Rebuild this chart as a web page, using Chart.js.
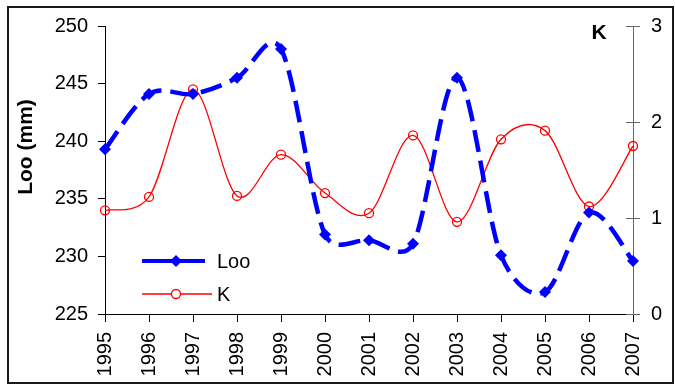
<!DOCTYPE html>
<html>
<head>
<meta charset="utf-8">
<script src="https://cdn.jsdelivr.net/npm/chart.js"></script>
<style>
  html, body { margin: 0; padding: 0; background: #fff; }
  canvas { display: block; }
</style>
</head>
<body>
<canvas id="growth-chart" width="675" height="391"></canvas>
<script>
// Years and growth parameters.
var years = ["1995", "1996", "1997", "1998", "1999", "2000", "2001", "2002", "2003", "2004", "2005", "2006", "2007"];
var looValues = [239.3, 244.1, 244.1, 245.5, 248.0, 231.9, 231.4, 231.1, 245.5, 230.1, 226.9, 233.8, 229.6];
var kValues = [1.08, 1.22, 2.34, 1.23, 1.66, 1.26, 1.05, 1.86, 0.96, 1.82, 1.91, 1.12, 1.75];

var looColor = "#0000ff";
var kColor = "#ff0000";
var fontFamily = "'Liberation Sans', Arial, sans-serif";

Chart.defaults.font.family = fontFamily;
Chart.defaults.color = "#000";

// Catmull-Rom style smoothing (1/6 of the neighbour chord),
// each handle kept within half of its segment.
var smoothing = {
	id: "smoothing",
	beforeDatasetDraw: function (chart, args) {
		var line = args.meta.dataset;
		var pts = args.meta.data;
		var n = pts.length;
		for (var i = 0; i < n; i++) {
			var p0 = pts[i - 1] || pts[i];
			var p1 = pts[i];
			var p2 = pts[i + 1] || pts[i];
			var tx = (p2.x - p0.x) / 6;
			var ty = (p2.y - p0.y) / 6;
			var len = Math.sqrt(tx * tx + ty * ty) || 1;
			var dIn = Math.sqrt(Math.pow(p1.x - p0.x, 2) + Math.pow(p1.y - p0.y, 2));
			var dOut = Math.sqrt(Math.pow(p2.x - p1.x, 2) + Math.pow(p2.y - p1.y, 2));
			var sIn = Math.min(1, dIn / 2 / len);
			var sOut = Math.min(1, dOut / 2 / len);
			p1.cp1x = p1.x - tx * sIn;
			p1.cp1y = p1.y - ty * sIn;
			p1.cp2x = p1.x + tx * sOut;
			p1.cp2y = p1.y + ty * sOut;
		}
		line._pointsUpdated = true;
	}
};

// Frame, axis labels, inner ticks of the K axis and the legend.
var extras = {
	id: "extras",
	afterDraw: function (chart) {
		var ctx = chart.ctx;
		var area = chart.chartArea;
		var kScale = chart.scales.y1;

		ctx.save();

		// Outer frame.
		ctx.strokeStyle = "#1a1a1a";
		ctx.lineWidth = 2;
		ctx.strokeRect(8, 7, 665, 376);

		// Ticks of the right axis reach into the plot too.
		ctx.strokeStyle = "#666";
		ctx.lineWidth = 1;
		kScale.ticks.forEach(function (t) {
			var y = Math.round(kScale.getPixelForValue(t.value)) + 0.5;
			ctx.beginPath();
			ctx.moveTo(area.right - 7, y);
			ctx.lineTo(area.right, y);
			ctx.stroke();
		});

		// Left axis title.
		ctx.fillStyle = "#000";
		ctx.font = "bold 21px " + fontFamily;
		ctx.textAlign = "center";
		ctx.textBaseline = "middle";
		ctx.save();
		ctx.translate(26, 147);
		ctx.rotate(-Math.PI / 2);
		ctx.fillText("Loo (mm)", 0, 0);
		ctx.restore();

		// Right axis title.
		ctx.fillText("K", 599, 33);

		// Legend.
		var sx = 142, ex = 205, mx = 176;
		ctx.font = "20px " + fontFamily;
		ctx.textAlign = "left";

		ctx.strokeStyle = looColor;
		ctx.fillStyle = looColor;
		ctx.lineWidth = 4;
		ctx.beginPath();
		ctx.moveTo(sx, 261);
		ctx.lineTo(ex, 261);
		ctx.stroke();
		ctx.beginPath();
		ctx.moveTo(mx, 255);
		ctx.lineTo(mx + 6, 261);
		ctx.lineTo(mx, 267);
		ctx.lineTo(mx - 6, 261);
		ctx.closePath();
		ctx.fill();
		ctx.fillStyle = "#000";
		ctx.fillText("Loo", 217, 262);

		ctx.strokeStyle = kColor;
		ctx.lineWidth = 1.3;
		ctx.beginPath();
		ctx.moveTo(sx, 294);
		ctx.lineTo(212, 294);
		ctx.stroke();
		ctx.fillStyle = "#fff";
		ctx.beginPath();
		ctx.arc(mx, 294, 4.5, 0, Math.PI * 2);
		ctx.fill();
		ctx.stroke();
		ctx.fillStyle = "#000";
		ctx.fillText("K", 217, 295);

		ctx.restore();
	}
};

new Chart(document.getElementById("growth-chart"), {
	type: "line",
	data: {
		labels: years,
		datasets: [
			{
				label: "Loo",
				data: looValues,
				yAxisID: "y",
				borderColor: looColor,
				backgroundColor: looColor,
				borderWidth: 4.5,
				borderDash: [22, 9],
				tension: 0.4,
				pointStyle: "rectRot",
				pointRadius: 6,
				pointBorderWidth: 0,
				pointBackgroundColor: looColor,
				clip: 10
			},
			{
				label: "K",
				data: kValues,
				yAxisID: "y1",
				borderColor: kColor,
				backgroundColor: "#fff",
				borderWidth: 1.3,
				tension: 0.4,
				pointStyle: "circle",
				pointRadius: 4.5,
				pointBorderWidth: 1.3,
				pointBorderColor: kColor,
				pointBackgroundColor: "rgba(255,255,255,0)",
				clip: 10
			}
		]
	},
	options: {
		responsive: false,
		animation: false,
		devicePixelRatio: 1,
		layout: { padding: { top: 26, left: 0, right: 0, bottom: 0 } },
		plugins: {
			legend: { display: false },
			tooltip: { enabled: false }
		},
		scales: {
			x: {
				offset: false,
				grid: { drawOnChartArea: false, tickLength: 8, tickColor: "#000" },
				border: { color: "#000", width: 1 },
				ticks: {
					autoSkip: false,
					minRotation: 90,
					maxRotation: 90,
					padding: 10,
					font: { size: 20 }
				},
				afterFit: function (scale) { scale.height = 77; }
			},
			y: {
				position: "left",
				min: 225,
				max: 250,
				grid: { drawOnChartArea: false, tickLength: 7, tickColor: "#000" },
				border: { color: "#000", width: 1 },
				ticks: { stepSize: 5, padding: 10, font: { size: 20 } },
				afterFit: function (scale) { scale.width = 105; }
			},
			y1: {
				position: "right",
				min: 0,
				max: 3,
				grid: { drawOnChartArea: false, tickLength: 7, tickColor: "#666" },
				border: { color: "#666", width: 1 },
				ticks: { stepSize: 1, padding: 11, font: { size: 20 } },
				afterFit: function (scale) { scale.width = 42; }
			}
		}
	},
	plugins: [smoothing, extras]
});
</script>
</body>
</html>
